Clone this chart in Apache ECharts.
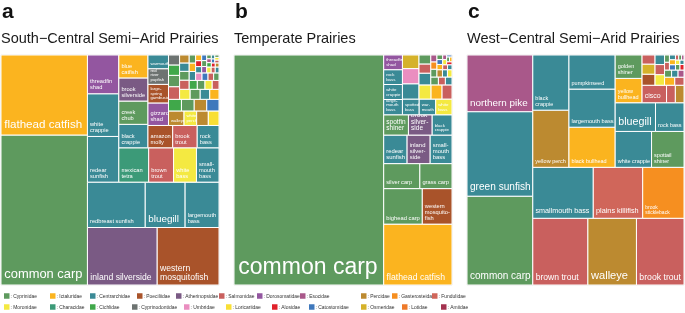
<!DOCTYPE html>
<html>
<head>
<meta charset="utf-8">
<script src="https://cdn.jsdelivr.net/npm/echarts@6/dist/echarts.min.js"></script>
<style>
  html, body { margin: 0; padding: 0; background: #fff; }
  #chart { width: 685px; height: 313px; }
</style>
</head>
<body>
<div id="chart"></div>
<script>
const FONT = '"Liberation Sans", Arial, Helvetica, sans-serif';

const families = ['Cyprinidae', 'Ictaluridae', 'Centrarchidae', 'Poeciliidae', 'Atherinopsidae', 'Salmonidae',
  'Dorosomatidae', 'Esocidae', 'Percidae', 'Gasterosteidae', 'Fundulidae', 'Moronidae', 'Characidae', 'Cichlidae',
  'Cyprinodontidae', 'Umbridae', 'Loricariidae', 'Alosidae', 'Catostomidae', 'Osmeridae', 'Lotidae', 'Amiidae'];
const familyColors = ['#5e9a5e', '#fbb41f', '#3a8a96', '#a9532a', '#7a5a84', '#c9605e',
  '#9356a0', '#a9588a', '#bc8a30', '#f68f20', '#d0665a', '#f4e941', '#3c9a78', '#40a84a',
  '#6d7371', '#ea8ec0', '#f8df35', '#e0212b', '#3f78bc', '#d5b22a', '#ee7a2a', '#a3324f'];

// ---- a: South-Central Semi-Arid Prairies ----
const aSpecies = ['common carp', 'flathead catfish', 'inland silverside', 'western mosquitofish', 'redbreast sunfish',
  'bluegill', 'largemouth bass', 'redear sunfish', 'white crappie', 'threadfin shad', 'mexican tetra', 'brown trout',
  'white bass', 'smallmouth bass', 'black crappie', 'creek chub', 'brook silverside', 'blue catfish', 'amazon molly',
  'brook trout', 'rock bass', 'gizzard shad', 'largespring gambusia', 'red river pupfish', 'warmouth', 'walleye',
  'white perch', '', '', '', '', '', '', '', '', '', '',
  '', '', '', '', '', '', '', '', '', '', '', '', '', '', '', '', '', '', '', '', '', '', '', '', '', '', '', '', '', '',
  '', '', '', '', '', ''];
const aFamily = ['Cyprinidae', 'Ictaluridae', 'Atherinopsidae', 'Poeciliidae', 'Centrarchidae',
  'Centrarchidae', 'Centrarchidae', 'Centrarchidae', 'Centrarchidae', 'Dorosomatidae', 'Characidae', 'Salmonidae',
  'Moronidae', 'Centrarchidae', 'Centrarchidae', 'Cyprinidae', 'Atherinopsidae', 'Ictaluridae', 'Poeciliidae',
  'Salmonidae', 'Centrarchidae', 'Dorosomatidae', 'Poeciliidae', 'Cyprinodontidae', 'Centrarchidae', 'Percidae',
  'Moronidae', 'Percidae', 'Loricariidae', 'Cichlidae', 'Cyprinidae', 'Percidae', 'Catostomidae',
  'Salmonidae', 'Cyprinidae', 'Cichlidae', 'Cyprinodontidae',
  'Moronidae', 'Cyprinidae', 'Centrarchidae', 'Ictaluridae', 'Salmonidae', 'Cyprinidae', 'Centrarchidae', 'Percidae',
  'Cichlidae', 'Cyprinidae', 'Moronidae', 'Salmonidae', 'Centrarchidae', 'Ictaluridae', 'Cyprinidae', 'Umbridae',
  'Catostomidae', 'Salmonidae', 'Cyprinidae', 'Centrarchidae', 'Alosidae', 'Ictaluridae', 'Dorosomatidae', 'Cyprinidae',
  'Catostomidae', 'Moronidae', 'Salmonidae', 'Centrarchidae', 'Cichlidae', 'Esocidae', 'Cyprinidae', 'Alosidae',
  'Percidae', 'Catostomidae', 'Centrarchidae', 'Salmonidae', 'Moronidae', 'Cyprinidae'];
const aValue = [12900, 6880, 3990, 3534, 2610,
  1800, 1530, 1426, 1333, 1209, 1020, 850,
  782, 770, 680, 675, 670, 665, 550,
  545, 484, 460, 380, 320, 280, 224,
  182, 168, 154, 150, 148, 145, 142,
  140, 125, 115, 110,
  105, 100, 95, 92, 88, 84, 80, 76,
  72, 68, 64, 60, 57, 54, 51, 48,
  45, 42, 40, 38, 36, 34, 32, 30,
  28, 26, 24, 22, 20, 18, 17, 16,
  15, 14, 13, 12, 11, 10];
const aLabels = {
  'common carp': [12.9], 'flathead catfish': [11.6], 'inland silverside': [8.6],
  'western mosquitofish': [8.6, 'western\nmosquitofish'], 'redbreast sunfish': [5.7], 'bluegill': [9.9],
  'largemouth bass': [5.7, 'largemouth\nbass'], 'redear sunfish': [5.7, 'redear\nsunfish'],
  'white crappie': [5.7, 'white\ncrappie'], 'threadfin shad': [5.7, 'threadfin\nshad'],
  'mexican tetra': [5.7, 'mexican\ntetra'], 'brown trout': [5.7, 'brown\ntrout'], 'white bass': [5.7, 'white\nbass'],
  'smallmouth bass': [5.7, 'small-\nmouth\nbass'], 'black crappie': [5.7, 'black\ncrappie'],
  'creek chub': [5.7, 'creek\nchub'], 'brook silverside': [5.7, 'brook\nsilverside'],
  'blue catfish': [5.7, 'blue\ncatfish'], 'amazon molly': [5.7, 'amazon\nmolly'], 'brook trout': [5.7, 'brook\ntrout'],
  'rock bass': [5.7, 'rock\nbass'], 'gizzard shad': [5.7, 'gizzard\nshad'],
  'largespring gambusia': [4.3, 'large-\nspring\ngambusia'], 'red river pupfish': [4.3, 'red\nriver\npupfish'],
  'warmouth': [4.3], 'walleye': [4.3], 'white perch': [4.3, 'white\nperch']
};

// ---- b: Temperate Prairies ----
const bSpecies = ['common carp', 'flathead catfish', 'bighead carp', 'western mosquitofish', 'silver carp', 'grass carp',
  'redear sunfish', 'inland silverside', 'smallmouth bass', 'spotfin shiner', 'brook silverside', 'black crappie',
  'largemouth bass', 'white crappie', 'rock bass', 'threadfin shad', 'spotted bass', 'warmouth', 'white bass',
  '', '', '', '', '', '', '', '', '',
  '', '', '', '', '', '', '', '', '', '', '', '', '', '', '', '', '', '', '', ''];
const bFamily = ['Cyprinidae', 'Ictaluridae', 'Cyprinidae', 'Poeciliidae', 'Cyprinidae', 'Cyprinidae',
  'Centrarchidae', 'Atherinopsidae', 'Centrarchidae', 'Cyprinidae', 'Atherinopsidae', 'Centrarchidae',
  'Centrarchidae', 'Centrarchidae', 'Centrarchidae', 'Dorosomatidae', 'Centrarchidae', 'Centrarchidae', 'Moronidae',
  'Centrarchidae', 'Umbridae', 'Osmeridae', 'Moronidae', 'Ictaluridae', 'Salmonidae', 'Centrarchidae', 'Salmonidae', 'Cyprinidae',
  'Cyprinidae', 'Salmonidae', 'Centrarchidae', 'Cyprinidae', 'Gasterosteidae', 'Esocidae', 'Percidae', 'Centrarchidae',
  'Moronidae', 'Ictaluridae', 'Catostomidae', 'Cyprinidae', 'Salmonidae', 'Centrarchidae', 'Moronidae', 'Esocidae',
  'Alosidae', 'Cyprinidae', 'Ictaluridae', 'Catostomidae'];
const bValue = [34270, 4140, 1365, 1050, 900, 800,
  665, 655, 620, 500, 480, 400,
  285, 280, 277, 274, 262, 258, 255,
  252, 250, 224, 170, 155, 140, 138, 108, 105,
  60, 55, 52, 48, 45, 42, 40, 36,
  33, 30, 28, 26, 24, 22, 20, 18,
  16, 14, 12, 10];
const bLabels = {
  'common carp': [23], 'flathead catfish': [8.7], 'bighead carp': [5.8],
  'western mosquitofish': [5.7, 'western\nmosquito-\nfish'], 'silver carp': [5.7], 'grass carp': [5.7],
  'redear sunfish': [5.9, 'redear\nsunfish'], 'inland silverside': [5.9, 'inland\nsilver-\nside'],
  'smallmouth bass': [5.9, 'small-\nmouth\nbass'], 'spotfin shiner': [6.5, 'spotfin\nshiner'],
  'brook silverside': [6.5, 'brook\nsilver-\nside'], 'black crappie': [4.4, 'black\ncrappie'],
  'largemouth bass': [4.4, 'large-\nmouth\nbass'], 'white crappie': [4.4, 'white\ncrappie'],
  'rock bass': [4.4, 'rock\nbass'], 'threadfin shad': [4.4, 'threadfin\nshad'],
  'spotted bass': [4.4, 'spotted\nbass'], 'warmouth': [4.4, 'war-\nmouth'], 'white bass': [4.4, 'white\nbass']
};

// ---- c: West-Central Semi-Arid Prairies ----
const cSpecies = ['common carp', 'green sunfish', 'northern pike', 'brown trout', 'walleye', 'brook trout',
  'smallmouth bass', 'plains killifish', 'brook stickleback', 'yellow perch', 'black crappie', 'black bullhead',
  'largemouth bass', 'pumpkinseed', 'white crappie', 'spottail shiner', 'bluegill', 'rock bass', 'yellow bullhead',
  'golden shiner', 'cisco', '', '', '', '', '',
  '', '', '', '', '', '', '', '', '', '', '', '', '', '', '', '', '', '', '', ''];
const cFamily = ['Cyprinidae', 'Centrarchidae', 'Esocidae', 'Salmonidae', 'Percidae', 'Salmonidae',
  'Centrarchidae', 'Fundulidae', 'Gasterosteidae', 'Percidae', 'Centrarchidae', 'Ictaluridae',
  'Centrarchidae', 'Centrarchidae', 'Centrarchidae', 'Cyprinidae', 'Centrarchidae', 'Centrarchidae', 'Ictaluridae',
  'Cyprinidae', 'Salmonidae', 'Salmonidae', 'Percidae', 'Poeciliidae', 'Osmeridae', 'Salmonidae',
  'Moronidae', 'Salmonidae', 'Centrarchidae', 'Ictaluridae', 'Salmonidae', 'Cyprinidae', 'Centrarchidae', 'Esocidae',
  'Salmonidae', 'Cyprinidae', 'Catostomidae', 'Ictaluridae', 'Centrarchidae', 'Cyprinidae', 'Alosidae', 'Moronidae',
  'Centrarchidae', 'Salmonidae', 'Cyprinidae', 'Esocidae'];
const cValue = [5800, 5520, 3700, 3650, 3216, 3149,
  3060, 2500, 2090, 2052, 1980, 1840,
  1748, 1564, 1295, 1155, 1148, 812, 650,
  624, 425, 153, 150, 143, 130, 117,
  100, 95, 90, 82, 74, 50, 46, 42,
  38, 35, 32, 30, 28, 25, 22, 20,
  18, 16, 14, 12];
const cLabels = {
  'common carp': [10], 'green sunfish': [10.1], 'northern pike': [9.9], 'brown trout': [8.6], 'walleye': [11.1],
  'brook trout': [8.7], 'smallmouth bass': [7.2], 'plains killifish': [7.3],
  'brook stickleback': [5, 'brook\nstickleback'], 'yellow perch': [5.5], 'black crappie': [5.5, 'black\ncrappie'],
  'black bullhead': [5.5], 'largemouth bass': [5.7], 'pumpkinseed': [5.5], 'white crappie': [5.5],
  'spottail shiner': [5.5, 'spottail\nshiner'], 'bluegill': [10.7], 'rock bass': [5.5],
  'yellow bullhead': [5.5, 'yellow\nbullhead'], 'golden shiner': [5.5, 'golden\nshiner'], 'cisco': [7]
};

// legend rows (family keys)
const legendRow1 = ['Cyprinidae', 'Ictaluridae', 'Centrarchidae', 'Poeciliidae', 'Atherinopsidae', 'Salmonidae',
  'Dorosomatidae', 'Esocidae', 'Percidae', 'Gasterosteidae', 'Fundulidae'];
const legendRow2 = ['Moronidae', 'Characidae', 'Cichlidae', 'Cyprinodontidae', 'Umbridae', 'Loricariidae',
  'Alosidae', 'Catostomidae', 'Osmeridae', 'Lotidae', 'Amiidae'];
const legendX1 = [4, 50, 90, 137, 176, 219, 257, 300, 361, 392, 432];
const legendX2 = [4, 50, 90, 132, 184, 226, 272, 309, 361, 402, 441];

// squarified layout in a 100 x 100 box, origin bottom-left (like treemapify)
function worst(row, sum, side) {
  const thick = sum / side;
  let m = 0;
  row.forEach(it => {
    const len = it.area / thick;
    m = Math.max(m, len / thick, thick / len);
  });
  return m;
}
function treemapify(values) {
  const total = values.reduce((s, v) => s + v, 0);
  const items = values.map((v, i) => ({ i, area: v / total * 10000 }))
    .sort((p, q) => q.area - p.area);
  const out = [];
  let x0 = 0, y0 = 0;
  const x1 = 100, y1 = 100;
  let k = 0;
  while (k < items.length) {
    const w = x1 - x0, h = y1 - y0;
    const vertical = w >= h;
    const side = vertical ? h : w;
    const row = [items[k]];
    let sum = items[k].area;
    let best = worst(row, sum, side);
    let j = k + 1;
    while (j < items.length) {
      const cand = row.concat(items[j]);
      const score = worst(cand, sum + items[j].area, side);
      if (score > best) break;
      row.push(items[j]);
      sum += items[j].area;
      best = score;
      j++;
    }
    const thick = sum / side;
    let pos = vertical ? y0 : x0;
    row.forEach(it => {
      const len = it.area / thick;
      out[it.i] = vertical ? [x0, pos, x0 + thick, pos + len] : [pos, y0, pos + len, y0 + thick];
      pos += len;
    });
    if (vertical) x0 += thick; else y0 += thick;
    k = j;
  }
  return out;
}

const panels = [
  { letter: 'a', title: 'South−Central Semi−Arid Prairies', species: aSpecies, family: aFamily, value: aValue, labels: aLabels, left: 1, width: 218 },
  { letter: 'b', title: 'Temperate Prairies', species: bSpecies, family: bFamily, value: bValue, labels: bLabels, left: 234, width: 218 },
  { letter: 'c', title: 'West−Central Semi−Arid Prairies', species: cSpecies, family: cFamily, value: cValue, labels: cLabels, left: 467, width: 217 }
];

const option = { animation: false, title: [], grid: [], xAxis: [], yAxis: [], series: [], graphic: [] };

panels.forEach((p, k) => {
  option.title.push({
    text: p.letter, left: p.left + 1, top: 2, padding: 0,
    textStyle: { fontFamily: FONT, fontSize: 21, fontWeight: 'bold', color: '#111' }
  });
  option.title.push({
    text: p.title, left: p.left, top: 31, padding: 0,
    textStyle: { fontFamily: FONT, fontSize: 14.5, fontWeight: 'normal', color: '#1a1a1a' }
  });
  option.grid.push({ left: p.left, top: 55, width: p.width, height: 230, show: true, borderColor: '#d8d8d8', borderWidth: 1 });
  option.xAxis.push({ gridIndex: k, type: 'value', min: 0, max: 100, show: false });
  option.yAxis.push({ gridIndex: k, type: 'value', min: 0, max: 100, show: false });
  const rects = treemapify(p.value);
  option.series.push({
    type: 'custom',
    xAxisIndex: k,
    yAxisIndex: k,
    encode: { x: [0, 2], y: [1, 3] },
    data: rects.map((r, i) => r.concat(i)),
    renderItem(params, api) {
      const i = api.value(4);
      const tl = api.coord([api.value(0), api.value(3)]);
      const br = api.coord([api.value(2), api.value(1)]);
      const children = [{
        type: 'rect',
        shape: { x: tl[0], y: tl[1], width: br[0] - tl[0], height: br[1] - tl[1] },
        style: { fill: familyColors[families.indexOf(p.family[i])], stroke: '#fff', lineWidth: 1 }
      }];
      const lab = p.labels[p.species[i]];
      if (lab) {
        const fs = lab[0];
        children.push({
          type: 'text',
          style: {
            text: lab[1] || p.species[i],
            x: tl[0] + 2 + fs * 0.1,
            y: br[1] - 2 - fs * 0.15,
            fill: '#fff', fontSize: fs, fontFamily: FONT, lineHeight: fs * 1.05,
            align: 'left', verticalAlign: 'bottom'
          }
        });
      }
      return { type: 'group', children };
    }
  });
});

[[legendRow1, legendX1, 296], [legendRow2, legendX2, 307]].forEach(([keys, xs, y]) => {
  keys.forEach((name, n) => {
    option.graphic.push({
      type: 'rect', shape: { x: xs[n], y: y - 2.75, width: 5.5, height: 5.5 },
      style: { fill: familyColors[families.indexOf(name)] }
    });
    option.graphic.push({
      type: 'text', x: xs[n] + 6.5, y: y, scaleX: 0.8,
      style: { text: ': ' + name, x: 0, y: 0, fontSize: 6.2, fontFamily: FONT, fill: '#333', verticalAlign: 'middle' }
    });
  });
});

const myChart = echarts.init(document.getElementById('chart'));
myChart.setOption(option);
</script>
</body>
</html>
